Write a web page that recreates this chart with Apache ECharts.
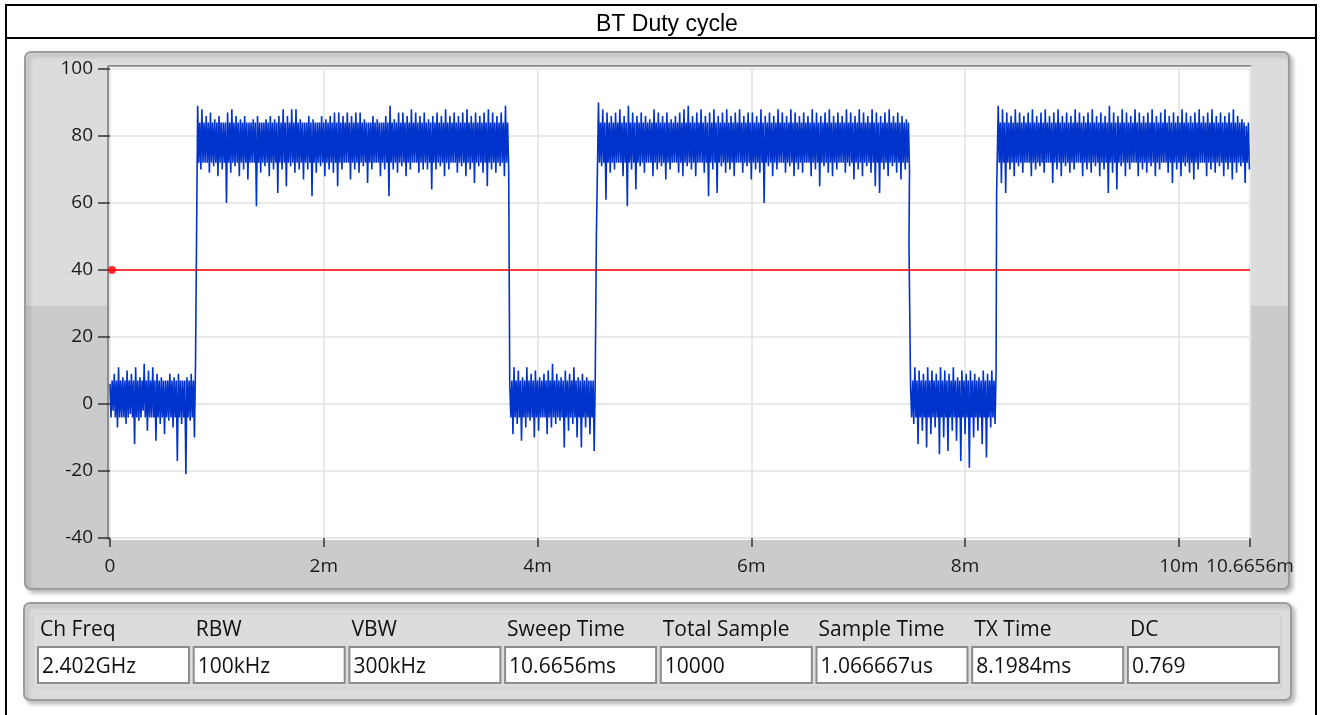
<!DOCTYPE html>
<html>
  <head>
    <meta charset="utf-8" />
    <title>BT Duty cycle</title>
    <script src="https://cdn.jsdelivr.net/npm/echarts@6/dist/echarts.min.js"></script>
    <style>
      body { margin: 0; background: #fff; }
    </style>
  </head>
  <body>
    <div id="main" style="width: 1320px; height: 715px"></div>
    <script type="text/javascript">
      // sweep step between envelope readings (ms)
      var STEP = 0.04;

      // solid core of the noise band [low, high]
      var lowCore = [-4, 7];
      var highCore = [72, 84];

      // low (burst off) segments: upper / lower envelope
      var low1Start = 0.0;
      var low1Top = [6, 9, 11, 8, 10, 9, 11, 8, 12, 10, 11, 9, 8, 7, 9, 8, 9, 7, 8, 9];
      var low1Bot = [-2, -7, -4, -6, -3, -12, -5, -2, -8, -4, -11, -6, -9, -5, -7, -17, -6, -21, -5, -10];

      var low2Start = 3.74;
      var low2Top = [6, 11, 10, 8, 11, 9, 10, 8, 9, 10, 12, 9, 8, 10, 9, 11, 8, 9, 8, 7];
      var low2Bot = [-9, -6, -11, -7, -5, -10, -8, -4, -9, -7, -6, -5, -13, -8, -6, -10, -13, -7, -9, -14];

      var low3Start = 7.49;
      var low3Top = [5, 11, 10, 9, 11, 10, 9, 11, 10, 9, 11, 8, 10, 9, 10, 9, 8, 10, 9, 10];
      var low3Bot = [-6, -12, -8, -13, -9, -7, -15, -10, -14, -8, -11, -17, -9, -19, -10, -8, -12, -16, -7, -6];

      // high (burst on) segments
      var high1Start = 0.82;
      var high1Top = [89, 88, 86, 87, 85, 86, 84, 87, 88, 86,
                      85, 86, 84, 85, 86, 84, 85, 86, 85, 86,
                      88, 86, 88, 88, 85, 84, 86, 85, 84, 86,
                      85, 86, 87, 87, 86, 87, 86, 87, 87, 85,
                      84, 86, 85, 84, 86, 89, 85, 87, 87, 86,
                      88, 87, 86, 87, 85, 86, 87, 86, 88, 86,
                      87, 86, 87, 88, 86, 87, 86, 87, 88, 87,
                      86, 87, 89];
      var high1Bot = [70, 72, 69, 71, 68, 70, 60, 69, 71, 68,
                      70, 67, 72, 59, 69, 71, 68, 70, 63, 70,
                      65, 71, 69, 70, 67, 70, 62, 69, 71, 68,
                      70, 69, 65, 70, 72, 67, 70, 69, 71, 66,
                      70, 72, 68, 70, 62, 70, 69, 71, 68, 70,
                      72, 69, 70, 70, 64, 70, 71, 68, 70, 72,
                      69, 71, 68, 70, 66, 71, 69, 65, 70, 69,
                      71, 68, 70];

      var high2Start = 4.57;
      var high2Top = [90, 88, 87, 86, 87, 88, 86, 89, 87, 86,
                      87, 86, 85, 88, 87, 86, 87, 85, 86, 87,
                      88, 89, 86, 87, 88, 86, 87, 88, 86, 87,
                      88, 86, 87, 88, 86, 87, 87, 86, 88, 86,
                      87, 86, 88, 87, 86, 88, 87, 86, 87, 86,
                      88, 87, 86, 87, 88, 86, 87, 86, 88, 87,
                      86, 88, 87, 86, 88, 87, 86, 87, 88, 86,
                      87, 86, 85];
      var high2Bot = [71, 61, 69, 70, 72, 68, 59, 70, 64, 71,
                      69, 72, 68, 70, 71, 67, 70, 72, 69, 68,
                      71, 70, 68, 72, 69, 62, 70, 63, 71, 69,
                      70, 68, 72, 69, 71, 67, 70, 69, 60, 71,
                      68, 70, 72, 69, 71, 68, 70, 69, 72, 68,
                      70, 65, 71, 69, 68, 70, 72, 69, 71, 67,
                      70, 68, 71, 69, 65, 63, 70, 68, 71, 69,
                      67, 70, 70];

      var high3Start = 8.31;
      var high3Top = [89, 88, 87, 86, 88, 87, 86, 87, 88, 86,
                      87, 88, 86, 87, 88, 86, 87, 86, 88, 87,
                      86, 87, 88, 86, 87, 86, 89, 87, 86, 88,
                      87, 86, 88, 87, 86, 87, 88, 86, 87, 88,
                      86, 87, 86, 88, 87, 86, 87, 88, 86, 87,
                      88, 86, 87, 86, 87, 88, 86, 85, 83];
      var high3Bot = [66, 63, 70, 68, 71, 69, 72, 68, 70, 71,
                      69, 72, 66, 70, 68, 71, 69, 70, 72, 68,
                      70, 69, 71, 68, 70, 63, 69, 64, 71, 68,
                      70, 72, 68, 70, 69, 71, 68, 70, 72, 69,
                      66, 70, 68, 71, 69, 67, 70, 72, 68, 70,
                      69, 71, 68, 70, 67, 69, 71, 66, 70];

      // transition points [ms, value]
      var rise1Pts = [[0.8, 12]];
      var rise2Pts = [[4.54, 8], [4.55, 49]];
      var fall2Pts = [[7.475, 48]];
      var rise3Pts = [[8.29, 10], [8.295, 63]];
      var endPts = [[10.6656, 70]];

      var threshold = 40;
      var sweepEnd = 10.6656;

      var paramNames = ["Ch Freq", "RBW", "VBW", "Sweep Time", "Total Sample", "Sample Time", "TX Time", "DC"];
      var paramValues = ["2.402GHz", "100kHz", "300kHz", "10.6656ms", "10000", "1.066667us", "8.1984ms", "0.769"];

      // each reading: peak, down through the core, spike to the trough, back up
      function segment(start, tops, bots, core) {
        var pts = [];
        for (var i = 0; i < tops.length; i++) {
          var t = start + i * STEP;
          pts.push([t, tops[i]]);
          pts.push([t + STEP / 4, core[0]]);
          pts.push([t + STEP / 2, core[1]]);
          pts.push([t + (3 * STEP) / 4, bots[i]]);
        }
        return pts;
      }

      var trace = [].concat(
        segment(low1Start, low1Top, low1Bot, lowCore), rise1Pts,
        segment(high1Start, high1Top, high1Bot, highCore),
        segment(low2Start, low2Top, low2Bot, lowCore), rise2Pts,
        segment(high2Start, high2Top, high2Bot, highCore), fall2Pts,
        segment(low3Start, low3Top, low3Bot, lowCore), rise3Pts,
        segment(high3Start, high3Top, high3Bot, highCore), endPts
      );

      var myChart = echarts.init(document.getElementById("main"));

      var labelFont = "'Open Sans', 'DejaVu Sans', sans-serif";

      // panel decorations
      var graphics = [
        { type: "rect", z: -20, shape: { x: 6, y: 5, width: 1310, height: 730 },
          style: { fill: "#fff", stroke: "#000", lineWidth: 2 } },
        { type: "line", z: -20, shape: { x1: 6, y1: 38, x2: 1316, y2: 38 },
          style: { stroke: "#000", lineWidth: 2 } },
        { type: "rect", z: -19, shape: { x: 25, y: 52, width: 1264, height: 537, r: 6 },
          style: {
            fill: new echarts.graphic.LinearGradient(0, 0, 0, 1, [
              { offset: 0, color: "#dcdcdc" }, { offset: 0.473, color: "#dcdcdc" },
              { offset: 0.473, color: "#cbcbcb" }, { offset: 1, color: "#cbcbcb" }
            ]),
            stroke: "#9c9c9c", lineWidth: 2,
            shadowColor: "rgba(0,0,0,0.25)", shadowBlur: 4, shadowOffsetX: 3, shadowOffsetY: 3
          } },
        { type: "rect", z: -18, shape: { x: 109, y: 66, width: 1142, height: 474 },
          style: { fill: "#fff" } },
        { type: "line", z: -17, shape: { x1: 108, y1: 66, x2: 1251, y2: 66 },
          style: { stroke: "#777", lineWidth: 1.5 } },
        { type: "line", z: -17, shape: { x1: 108, y1: 66, x2: 108, y2: 540 },
          style: { stroke: "#777", lineWidth: 1.5 } },
        { type: "rect", z: -19, shape: { x: 24, y: 603, width: 1267, height: 97, r: 6 },
          style: {
            fill: "#dcdcdc", stroke: "#9c9c9c", lineWidth: 2,
            shadowColor: "rgba(0,0,0,0.25)", shadowBlur: 4, shadowOffsetX: 3, shadowOffsetY: 3
          } },
        { type: "rect", z: -18, shape: { x: 33, y: 614, width: 1248, height: 74 },
          style: { fill: "none", stroke: "#cdcdcd", lineWidth: 1 } }
      ];

      for (var i = 0; i < paramNames.length; i++) {
        var bx = 38 + i * 155.7;
        graphics.push({ type: "rect", z: -15, shape: { x: bx, y: 647, width: 151, height: 36 },
          style: { fill: "#fff", stroke: "#8c8c8c", lineWidth: 2 } });
        graphics.push({ type: "text", z: 10,
          style: { text: paramNames[i], x: bx + 2, y: 630, font: "21px " + labelFont,
                   fill: "#111", verticalAlign: "middle", align: "left" } });
        graphics.push({ type: "text", z: 10,
          style: { text: paramValues[i], x: bx + 4, y: 667, font: "21px " + labelFont,
                   fill: "#111", verticalAlign: "middle", align: "left" } });
      }

      var option = {
        animation: false,
        title: {
          text: "BT Duty cycle",
          left: 591,
          top: 8,
          textStyle: { fontFamily: "'Liberation Sans', Arial, sans-serif", fontSize: 23, fontWeight: "normal", color: "#000" }
        },
        grid: { left: 110, top: 69, width: 1140, height: 469 },
        xAxis: {
          type: "value",
          min: 0,
          max: sweepEnd,
          interval: 2,
          axisLine: { show: false, onZero: false },
          axisTick: { show: true, length: 9, lineStyle: { color: "#333", width: 1.5 } },
          axisLabel: {
            margin: 19,
            fontFamily: labelFont, fontSize: 19, color: "#1a1a1a",
            showMaxLabel: true,
            formatter: function (v) { return v === 0 ? "0" : v + "m"; }
          },
          splitLine: { show: true, lineStyle: { color: "#e2e2e2", width: 1.5 } }
        },
        yAxis: {
          type: "value",
          min: -40,
          max: 100,
          interval: 20,
          axisLine: { show: false, onZero: false },
          axisTick: { show: true, length: 12, lineStyle: { color: "#333", width: 1.5 } },
          axisLabel: { margin: 17, fontFamily: labelFont, fontSize: 19, color: "#1a1a1a" },
          splitLine: { show: true, lineStyle: { color: "#e2e2e2", width: 1.5 } }
        },
        graphic: graphics,
        series: [
          {
            name: "Trace",
            type: "line",
            data: trace,
            showSymbol: false,
            sampling: null,
            lineStyle: { color: "#0033cc", width: 1.6 },
            z: 3
          },
          {
            name: "Threshold",
            type: "line",
            data: [[0, threshold], [sweepEnd, threshold]],
            showSymbol: false,
            lineStyle: { color: "#ff0000", width: 1.5 },
            z: 4
          },
          {
            name: "Cursor",
            type: "scatter",
            data: [[0, threshold]],
            symbolSize: 8,
            symbolOffset: [2, 0],
            itemStyle: { color: "#ff0000" },
            z: 5
          }
        ]
      };

      myChart.setOption(option);
    </script>
  </body>
</html>
